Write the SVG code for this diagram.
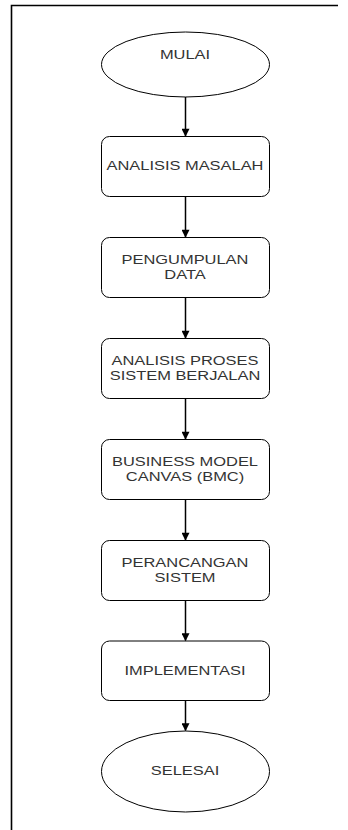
<svg xmlns="http://www.w3.org/2000/svg" width="348" height="830" viewBox="0 0 348 830">
<defs>
<style>
.frame{fill:none;stroke:#000;stroke-width:1.6}
.node{fill:#fff;stroke:#000;stroke-width:1}
.lbl{font-family:"Liberation Sans",Arial,sans-serif;font-size:12px;fill:#333;text-anchor:middle}
.edge{fill:none;stroke:#000;stroke-width:1.5}
</style>
<marker id="arr" viewBox="0 0 10 10" refX="9" refY="5" markerWidth="10" markerHeight="8" markerUnits="userSpaceOnUse" orient="auto">
<path d="M0,0 L10,5 L0,10 Z" fill="#000"/>
</marker>
</defs>
<rect width="348" height="830" fill="#fff"/>
<path class="frame" d="M338 5.5 H11.5 V830"/>

<g id="n-mulai">
<ellipse class="node" cx="185.5" cy="64.5" rx="84" ry="32.5"/>
<text class="lbl" x="185" y="59.5" transform="matrix(1.37,0,0,1,-68.45,0)">MULAI</text>
</g>
<g id="n-analisis-masalah">
<rect class="node" x="101.5" y="136.5" width="168" height="60" rx="8"/>
<text class="lbl" x="185" y="170.5" transform="matrix(1.37,0,0,1,-68.45,0)">ANALISIS MASALAH</text>
</g>
<g id="n-pengumpulan-data">
<rect class="node" x="101.5" y="237.5" width="168" height="60" rx="8"/>
<text class="lbl" x="185" y="264.5" transform="matrix(1.37,0,0,1,-68.45,0)">PENGUMPULAN</text>
<text class="lbl" x="185" y="279.5" transform="matrix(1.37,0,0,1,-68.45,0)">DATA</text>
</g>
<g id="n-analisis-proses">
<rect class="node" x="101.5" y="338.5" width="168" height="60" rx="8"/>
<text class="lbl" x="185" y="365.5" transform="matrix(1.37,0,0,1,-68.45,0)">ANALISIS PROSES</text>
<text class="lbl" x="185" y="380.5" transform="matrix(1.37,0,0,1,-68.45,0)">SISTEM BERJALAN</text>
</g>
<g id="n-bmc">
<rect class="node" x="101.5" y="439.5" width="168" height="60" rx="8"/>
<text class="lbl" x="185" y="466.5" transform="matrix(1.37,0,0,1,-68.45,0)">BUSINESS MODEL</text>
<text class="lbl" x="185" y="481.5" transform="matrix(1.37,0,0,1,-68.45,0)">CANVAS (BMC)</text>
</g>
<g id="n-perancangan">
<rect class="node" x="101.5" y="540.5" width="168" height="60" rx="8"/>
<text class="lbl" x="185" y="567.5" transform="matrix(1.37,0,0,1,-68.45,0)">PERANCANGAN</text>
<text class="lbl" x="185" y="582.5" transform="matrix(1.37,0,0,1,-68.45,0)">SISTEM</text>
</g>
<g id="n-implementasi">
<rect class="node" x="101.5" y="641" width="168" height="59.5" rx="8"/>
<text class="lbl" x="185" y="675" transform="matrix(1.37,0,0,1,-68.45,0)">IMPLEMENTASI</text>
</g>
<g id="n-selesai">
<ellipse class="node" cx="185.5" cy="771.5" rx="84" ry="40.5"/>
<text class="lbl" x="185" y="775" transform="matrix(1.37,0,0,1,-68.45,0)">SELESAI</text>
</g>

<g id="edges">
<line class="edge" x1="185.5" y1="97" x2="185.5" y2="136" marker-end="url(#arr)"/>
<line class="edge" x1="185.5" y1="196.5" x2="185.5" y2="237" marker-end="url(#arr)"/>
<line class="edge" x1="185.5" y1="297.5" x2="185.5" y2="338" marker-end="url(#arr)"/>
<line class="edge" x1="185.5" y1="398.5" x2="185.5" y2="439" marker-end="url(#arr)"/>
<line class="edge" x1="185.5" y1="499.5" x2="185.5" y2="540" marker-end="url(#arr)"/>
<line class="edge" x1="185.5" y1="600.5" x2="185.5" y2="640.5" marker-end="url(#arr)"/>
<line class="edge" x1="185.5" y1="700.5" x2="185.5" y2="730.5" marker-end="url(#arr)"/>
</g>
</svg>
